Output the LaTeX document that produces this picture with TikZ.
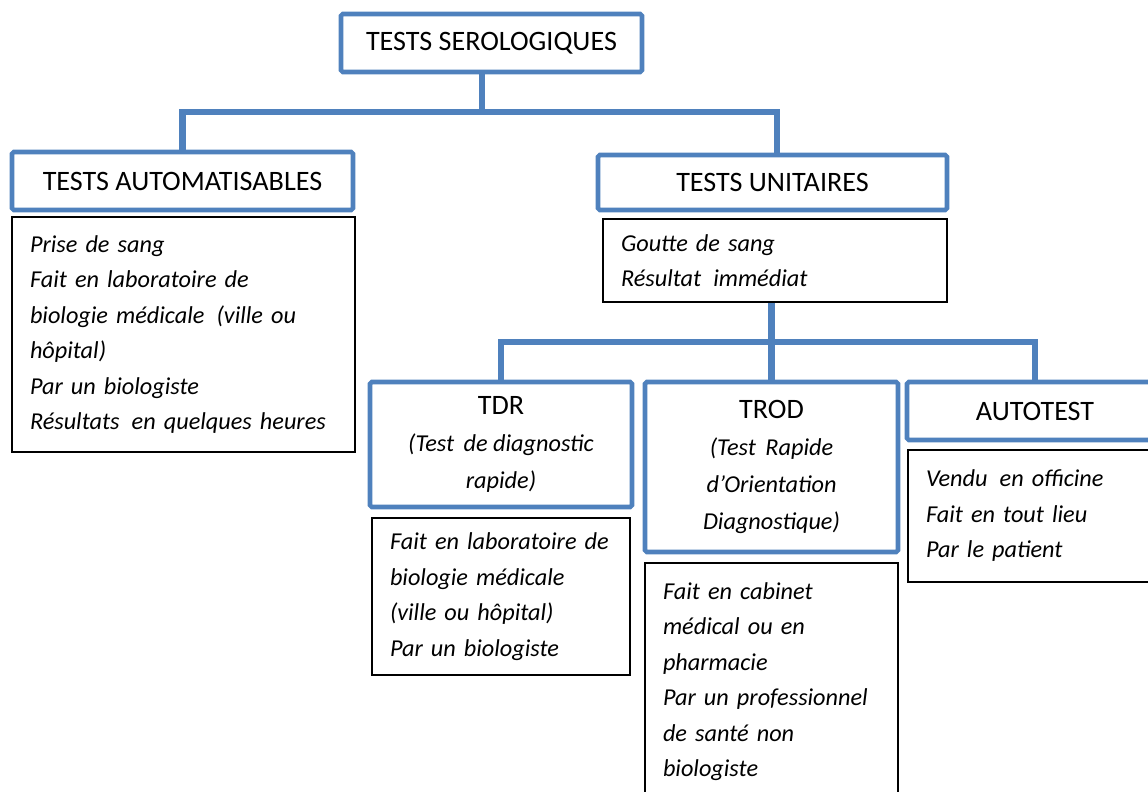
\documentclass[tikz,border=0pt]{standalone}
\usepackage{fontspec}
\setmainfont{Carlito}
\usepackage{tikz}
\usetikzlibrary{positioning}
\definecolor{hdblue}{RGB}{79,129,189}
\newcommand{\hdfont}{\fontsize{16}{21}\selectfont}
\newcommand{\bodyfont}{\fontsize{13.8}{20.2}\selectfont\itshape}
\newcommand{\sub}[1]{{\fontsize{13.8}{20}\selectfont\itshape #1}}
\newcommand{\wsp}{\ \,}

\begin{document}
\begin{tikzpicture}[
    hdbox/.style={draw=hdblue, line width=2.6pt, rounded corners=1pt, fill=white,
        align=center, font=\hdfont, inner sep=0pt},
    txtbox/.style={draw=black, line width=0.85pt, fill=white, align=left,
        font=\bodyfont, inner xsep=0.36cm, inner ysep=0pt},
    link/.style={draw=hdblue, line width=3.6pt}
]
    \useasboundingbox (0,0) rectangle (22.96,-15.82);
    \clip (0,0) rectangle (22.96,-15.82);

    % Top box
    \node[hdbox, minimum width=6.02cm, minimum height=1.16cm] (sero) at (9.83,-0.86) {TESTS SEROLOGIQUES};

    % Automatisables branch
    \node[hdbox, minimum width=6.82cm, minimum height=1.16cm] (auto) at (3.65,-3.62) {TESTS AUTOMATISABLES};
    \node[txtbox, text width=6.14cm, minimum height=4.7cm] (autotxt) at (3.67,-6.69)
        {Prise de sang\\Fait en laboratoire de\\biologie médicale\wsp(ville ou\\hôpital)\\Par un biologiste\\Résultats\wsp en quelques heures};

    % Unitaires branch
    \node[hdbox, minimum width=6.98cm, minimum height=1.1cm] (unit) at (15.45,-3.65) {TESTS UNITAIRES};
    \node[txtbox, text width=6.16cm, minimum height=1.66cm] (unittxt) at (15.5,-5.21)
        {Goutte de sang\\Résultat\wsp immédiat};

    % TDR
    \node[hdbox, minimum width=5.24cm, minimum height=2.5cm] (tdr) at (10.02,-8.89)
        {TDR\\\sub{(Test\wsp de diagnostic}\\\sub{rapide)}};
    \node[txtbox, text width=4.44cm, minimum height=3.14cm] (tdrtxt) at (10.02,-11.93)
        {Fait en laboratoire de\\biologie médicale\\(ville ou hôpital)\\Par un biologiste};

    % TROD
    \node[hdbox, minimum width=5.06cm, minimum height=3.4cm] (trod) at (15.43,-9.34)
        {TROD\\\sub{(Test\wsp Rapide}\\\sub{d'Orientation}\\\sub{Diagnostique)}};
    \node[txtbox, text width=4.34cm, minimum height=4.74cm] (trodtxt) at (15.43,-13.63)
        {Fait en cabinet\\médical ou en\\pharmacie\\Par un professionnel\\de santé non\\biologiste};

    % Autotest
    \node[hdbox, minimum width=5.12cm, minimum height=1.16cm] (autot) at (20.7,-8.22) {AUTOTEST};
    \node[txtbox, text width=4.4cm, minimum height=2.64cm] (autottxt) at (20.72,-10.32)
        {Vendu\wsp en officine\\Fait en tout lieu\\Par le patient\\[0.3cm]};

    % Connectors
    \coordinate (bar1) at (9.64,-2.24);
    \coordinate (bar2) at (trod.north |- 0,-6.84);
    \draw[link] (sero.south -| bar1) -- (bar1);
    \draw[link] (auto.north) |- (bar1) -| ([xshift=0.09cm]unit.north);
    \draw[link] (trod.north |- unittxt.south) -- (trod.north);
    \draw[link] (tdr.north) |- (bar2) -| (autot.north);
\end{tikzpicture}
\end{document}
